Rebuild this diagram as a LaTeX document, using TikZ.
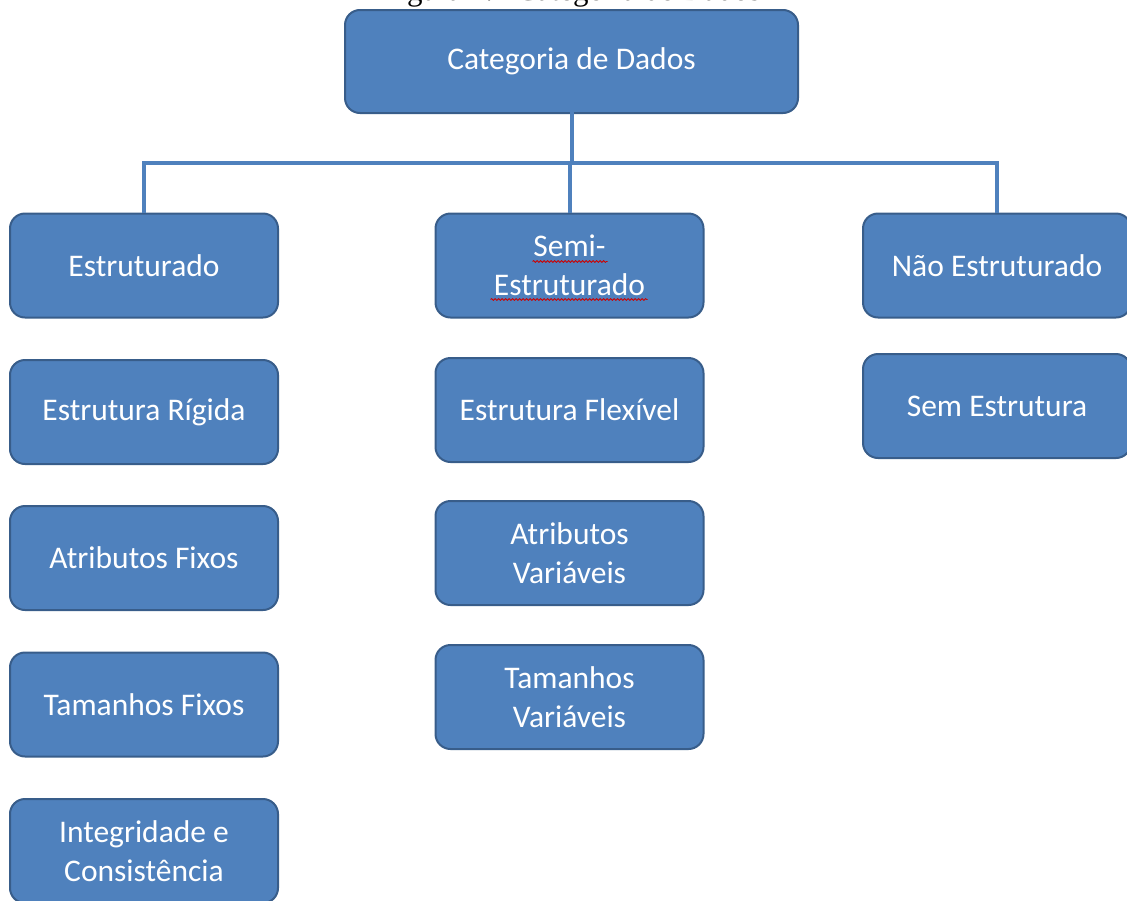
\documentclass[tikz,border=0pt]{standalone}
\usepackage{fontspec}
\setmainfont{Carlito}
\newfontfamily\capfont{Liberation Serif}
\usetikzlibrary{decorations.pathmorphing}
\definecolor{boxfill}{HTML}{4F81BD}
\definecolor{boxedge}{HTML}{385D8A}
\begin{document}
\begin{tikzpicture}[x=1pt,y=-1pt,
  box/.style={draw=boxedge, line width=2pt, fill=boxfill, rounded corners=15pt,
    minimum width=268pt, minimum height=104pt, inner sep=0pt,
    text=white, align=center, font=\fontsize{31.5}{39}\selectfont},
  link/.style={draw=boxfill, line width=4pt, line join=miter},
  squiggle/.style={draw=red!80!black, line width=0.8pt,
    decorate, decoration={snake, amplitude=0.9pt, segment length=3.5pt}}]
\useasboundingbox (0,0) rectangle (1127,900);
\clip (0,0) rectangle (1127,900);

% caption, mostly hidden above the top edge
\node[font=\capfont\fontsize{31}{36}\selectfont, anchor=base, inner sep=0pt] (cap) at (571,0.5) {Figura 1.1 Categoria de Dados};

% root
\node[box, minimum width=453pt, minimum height=103pt] (root) at (571.5,61.5) {Categoria de Dados};

% structured column
\node[box] (s1) at (144,265.5) {Estruturado};
\node[box] (a1) at (144,412) {Estrutura Rígida};
\node[box] (a2) at (144,558) {Atributos Fixos};
\node[box] (a3) at (144,704.5) {Tamanhos Fixos};
\node[box] (a4) at (144,851) {Integridade e\\Consistência};

% semi-structured column
\node[box] (s2) at (569.5,265.5) {Semi-\\Estruturado};
\node[box] (b1) at (569.5,410) {Estrutura Flexível};
\node[box] (b2) at (569.5,553) {Atributos\\Variáveis};
\node[box] (b3) at (569.5,697) {Tamanhos\\Variáveis};

% unstructured column
\node[box] (s3) at (997,265.5) {Não Estruturado};
\node[box] (c1) at (997,406) {Sem Estrutura};

% spell-check underlines
\draw[squiggle] ([shift={(-37,-4)}]s2.center) -- ([shift={(38,-4)}]s2.center);
\draw[squiggle] ([shift={(-79,34)}]s2.center) -- ([shift={(78,34)}]s2.center);

% connectors
\coordinate (bus) at (571.5,163);
\draw[link] (root.south) ++(0,-36) -- (bus);
\draw[link] (s1.north) -- (s1.north |- bus) -- (s3.north |- bus) -- (s3.north);
\draw[link] (s2.north |- bus) -- (s2.north);
\end{tikzpicture}
\end{document}
